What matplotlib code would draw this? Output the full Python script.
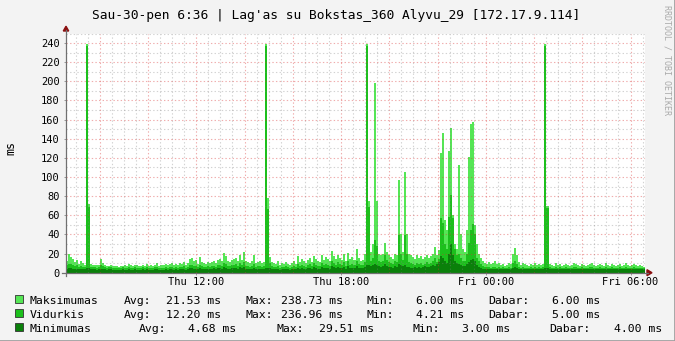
import numpy as np
import matplotlib
matplotlib.use("Agg")
import matplotlib.pyplot as plt
from matplotlib.patches import Polygon, Rectangle
from matplotlib.lines import Line2D

# ping latency (ms), one value per 5 minutes, Thu 06:36 -> Fri 06:36
# each row = 2 hours (24 samples)
max_ms = [
    12, 20, 16, 14, 11, 13, 9, 12, 10, 8, 239, 72, 9, 8, 8, 8, 8, 14, 10, 8, 7, 7, 8, 7,
    7, 7, 6, 7, 7, 8, 7, 9, 8, 7, 8, 8, 7, 7, 8, 7, 9, 7, 8, 7, 8, 10, 7, 8,
    8, 9, 8, 9, 10, 8, 9, 8, 10, 9, 11, 8, 10, 14, 15, 12, 13, 9, 16, 11, 10, 9, 11, 10,
    11, 12, 10, 13, 14, 12, 21, 17, 12, 11, 13, 14, 15, 12, 19, 13, 22, 12, 11, 10, 12, 18, 10, 11,
    12, 10, 11, 239, 78, 16, 11, 10, 9, 12, 8, 10, 9, 11, 9, 8, 10, 12, 9, 17, 11, 14, 12, 10,
    13, 15, 11, 17, 14, 12, 11, 18, 13, 16, 14, 12, 23, 17, 14, 19, 15, 13, 20, 12, 21, 14, 16, 13,
    25, 15, 12, 13, 20, 239, 75, 22, 30, 198, 75, 20, 18, 20, 31, 22, 18, 16, 14, 20, 18, 97, 40, 22,
    105, 40, 20, 18, 16, 14, 18, 15, 17, 14, 16, 19, 15, 17, 20, 27, 18, 24, 125, 146, 55, 45, 127, 151,
    60, 30, 25, 113, 40, 25, 22, 45, 121, 155, 157, 50, 30, 20, 15, 12, 10, 9, 11, 9, 10, 12, 9, 10,
    8, 9, 7, 8, 10, 9, 20, 26, 19, 11, 8, 10, 9, 8, 7, 9, 8, 10, 8, 9, 8, 9, 239, 70,
    9, 8, 7, 10, 8, 9, 7, 8, 9, 8, 7, 8, 10, 9, 8, 7, 9, 8, 7, 8, 9, 10, 8, 7,
    8, 9, 8, 7, 10, 8, 7, 9, 8, 7, 8, 9, 7, 8, 10, 8, 7, 8, 9, 8, 7, 8, 7, 6,
]
avg_ms = [
    8, 9, 9, 8, 7, 8, 6, 7, 6, 6, 237, 69, 6, 6, 6, 5, 6, 8, 7, 6, 5, 6, 6, 5,
    5, 5, 5, 5, 6, 5, 5, 6, 5, 5, 6, 5, 5, 5, 6, 5, 6, 5, 5, 5, 6, 6, 5, 5,
    5, 6, 5, 6, 6, 5, 6, 5, 6, 6, 7, 5, 6, 8, 8, 7, 7, 6, 8, 7, 6, 6, 7, 6,
    7, 7, 6, 8, 8, 7, 10, 9, 7, 7, 8, 8, 9, 7, 10, 8, 11, 7, 7, 6, 7, 9, 6, 7,
    7, 6, 7, 237, 67, 10, 7, 6, 6, 7, 5, 6, 6, 7, 6, 5, 6, 7, 6, 9, 7, 8, 7, 6,
    8, 9, 7, 10, 8, 7, 7, 10, 8, 9, 8, 7, 12, 10, 8, 11, 9, 8, 11, 7, 12, 8, 9, 8,
    12, 9, 8, 8, 11, 237, 69, 12, 15, 34, 28, 12, 11, 12, 18, 13, 11, 10, 9, 12, 11, 39, 20, 13,
    39, 20, 11, 10, 9, 8, 10, 9, 10, 8, 9, 11, 9, 10, 12, 15, 11, 14, 57, 52, 30, 25, 58, 81,
    57, 25, 18, 20, 15, 12, 12, 20, 31, 45, 51, 40, 15, 12, 9, 7, 6, 6, 6, 5, 6, 6, 5, 6,
    5, 6, 5, 5, 6, 5, 10, 12, 9, 6, 5, 6, 5, 5, 5, 6, 5, 6, 5, 6, 5, 6, 237, 68,
    6, 5, 5, 6, 5, 6, 5, 5, 6, 5, 5, 5, 6, 6, 5, 5, 6, 5, 5, 5, 6, 6, 5, 5,
    5, 6, 5, 5, 6, 5, 5, 6, 5, 5, 5, 6, 5, 5, 6, 5, 5, 5, 6, 5, 5, 5, 5, 5,
]
min_ms = [
    4, 5, 5, 4, 4, 4, 4, 4, 4, 4, 5, 5, 4, 4, 4, 3, 4, 4, 4, 4, 3, 4, 4, 3,
    3, 3, 3, 3, 4, 3, 3, 4, 3, 3, 4, 3, 3, 3, 4, 3, 4, 3, 3, 3, 4, 4, 3, 3,
    3, 4, 3, 4, 4, 3, 4, 3, 4, 4, 4, 3, 4, 5, 5, 4, 4, 4, 5, 4, 4, 4, 4, 4,
    4, 5, 4, 5, 5, 4, 6, 5, 4, 4, 5, 5, 5, 4, 6, 5, 6, 4, 4, 4, 4, 5, 4, 4,
    4, 4, 4, 5, 5, 5, 4, 4, 4, 4, 3, 4, 4, 4, 4, 3, 4, 4, 4, 5, 4, 5, 4, 4,
    5, 5, 4, 6, 5, 4, 4, 6, 5, 5, 5, 4, 7, 6, 5, 6, 5, 5, 6, 4, 7, 5, 5, 5,
    7, 5, 5, 5, 6, 8, 8, 7, 8, 9, 8, 7, 6, 7, 9, 7, 6, 6, 5, 7, 6, 9, 8, 7,
    8, 6, 6, 5, 5, 6, 5, 6, 5, 6, 7, 6, 6, 7, 8, 7, 9, 11, 17, 15, 12, 10, 20, 29.5,
    18, 12, 10, 9, 8, 7, 7, 9, 11, 13, 14, 12, 8, 6, 5, 4, 4, 4, 4, 4, 4, 4, 4, 4,
    4, 4, 4, 4, 4, 4, 5, 6, 5, 4, 4, 4, 4, 4, 4, 4, 4, 4, 4, 4, 4, 4, 5, 5,
    4, 4, 4, 4, 4, 4, 4, 4, 4, 4, 4, 4, 4, 4, 4, 4, 4, 4, 4, 4, 4, 4, 4, 4,
    4, 4, 4, 4, 4, 4, 4, 4, 4, 4, 4, 4, 4, 4, 4, 4, 4, 4, 4, 4, 4, 4, 4, 4,
]

series = ["Maksimumas", "Vidurkis", "Minimumas"]
stat_avg = ["21.53", "12.20", "4.68"]
stat_max = ["238.73", "236.96", "29.51"]
stat_min = ["6.00", "4.21", "3.00"]
stat_cur = ["6.00", "5.00", "4.00"]
colors = ["#55E655", "#1CC01C", "#0A800A"]

x_ticks = [12, 18, 24, 30]
x_labels = ["Thu 12:00", "Thu 18:00", "Fri 00:00", "Fri 06:00"]
title = "Sau-30-pen 6:36 | Lag'as su Bokstas_360 Alyvu_29 [172.17.9.114]"

W, H = 675, 341
MONO = "DejaVu Sans Mono"
plt.rcParams["lines.scale_dashes"] = False


def P(x, y):
    return (x / W, 1 - y / H)


fig = plt.figure(figsize=(W / 100, H / 100), dpi=100, facecolor="#F3F3F3")
x0, x1, ytop, ybot = 66, 645, 33.5, 272.7
ax = fig.add_axes([x0 / W, 1 - ybot / H, (x1 - x0) / W, (ybot - ytop) / H])
ax.set_facecolor("white")

t0 = 6.6  # Thu 06:36
edges = t0 + np.arange(len(max_ms) + 1) * 5 / 60
for vals, c in zip([max_ms, avg_ms, min_ms], colors):
    ax.stairs(vals, edges, fill=True, color=c, lw=0, zorder=2)

ax.set_xlim(t0, t0 + 24)
ax.set_ylim(0, 250)

# grid on top of the data, like rrdtool
dots = (0, (1.0, 1.6))
for h in np.arange(7.0, 30.7, 0.5):
    major = abs((h - 8) % 2) < 1e-9
    ax.axvline(h, color=(0.85, 0.2, 0.2, 0.4) if major else (0.5, 0.5, 0.5, 0.35),
               lw=0.8, ls=dots, zorder=3)
for v in range(10, 251, 10):
    major = v % 20 == 0
    ax.axhline(v, color=(0.85, 0.2, 0.2, 0.4) if major else (0.5, 0.5, 0.5, 0.35),
               lw=0.8, ls=dots, zorder=3)

for s in ax.spines.values():
    s.set_visible(False)
ax.set_yticks(range(0, 241, 20))
ax.set_yticklabels([str(v) for v in range(0, 241, 20)], family=MONO, fontsize=7.5)
ax.set_xticks(x_ticks)
ax.set_xticklabels(x_labels, family=MONO, fontsize=7.5)
ax.tick_params(axis="y", length=1.5, width=0.7, color="#999999", pad=3)
ax.tick_params(axis="x", length=1.5, width=0.7, color="#999999", pad=1.5)

# axes with arrows
fig.add_artist(Line2D(*zip(P(66, 276), P(66, 30)), color="#707070", lw=0.9,
                      transform=fig.transFigure))
fig.add_artist(Line2D(*zip(P(62, 272.7), P(648, 272.7)), color="#707070", lw=0.9,
                      transform=fig.transFigure))
fig.add_artist(Polygon([P(63.3, 31), P(68.7, 31), P(66, 26.2)], closed=True,
                       color="#8B1010", transform=fig.transFigure))
fig.add_artist(Polygon([P(647, 269.7), P(647, 275.7), P(652, 272.7)], closed=True,
                       color="#8B1010", transform=fig.transFigure))

# texts
fig.text(*P(335.8, 18.5), title, family=MONO, fontsize=9.3, ha="center", va="baseline")
fig.text(*P(11, 148), "ms", family=MONO, fontsize=8.4, rotation=90, ha="center", va="center")
fig.text(*P(666.5, 60), "RRDTOOL / TOBI OETIKER", family=MONO, fontsize=6,
         rotation=270, ha="center", va="center", color="#AAAAAA")

# legend (rrdtool tab stops, measured in pixels)
cols = [
    [30, 124, 166, 245, 280.6, 366.3, 415.6, 488.3, 552],
    [30, 124, 166, 245, 280.6, 366.3, 415.6, 488.3, 552],
    [30, 138.6, 188.3, 276.3, 318.6, 412.5, 462.3, 549.7, 613.7],
]
baselines = [304, 318, 332]
for k in range(3):
    y = baselines[k]
    fig.add_artist(Rectangle(P(15, y - 1), 8 / W, 8 / H, facecolor=colors[k],
                             edgecolor="#333333", lw=0.6, transform=fig.transFigure))
    parts = [series[k], "Avg:", stat_avg[k] + " ms", "Max:", stat_max[k] + " ms",
             "Min:", stat_min[k] + " ms", "Dabar:", stat_cur[k] + " ms"]
    for xp, txt in zip(cols[k], parts):
        fig.text(*P(xp, y), txt, family=MONO, fontsize=8.25, ha="left", va="baseline")

# image frame
fig.add_artist(Line2D([0, 1], [0.5 / H, 0.5 / H], color="#A0A0A0", lw=2,
                      transform=fig.transFigure))
fig.add_artist(Line2D([1 - 0.5 / W, 1 - 0.5 / W], [0, 1], color="#A0A0A0", lw=2,
                      transform=fig.transFigure))

fig.savefig("out.png", dpi=100, facecolor=fig.get_facecolor())
